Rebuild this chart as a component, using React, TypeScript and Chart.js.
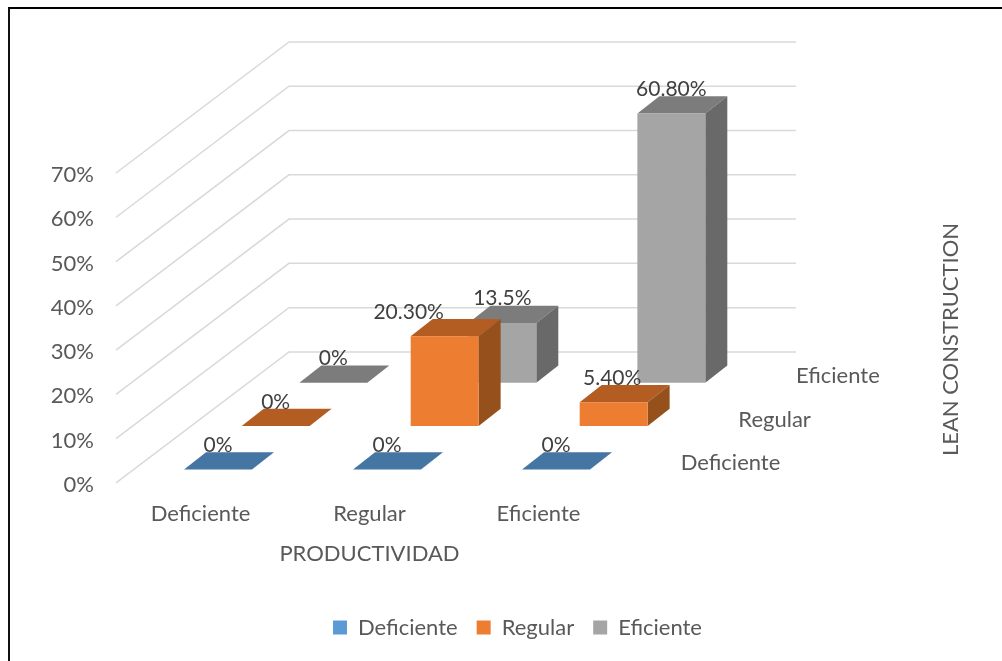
import React, { useEffect, useRef } from "react";
import { Chart, registerables } from "chart.js";

Chart.register(...registerables);

const categories = ["Deficiente", "Regular", "Eficiente"];
const seriesNames = ["Deficiente", "Regular", "Eficiente"];
const deficienteValues = [0, 0, 0];
const regularValues = [0, 20.3, 5.4];
const eficienteValues = [0, 13.5, 60.8];
const deficienteLabels = ["0%", "0%", "0%"];
const regularLabels = ["0%", "20.30%", "5.40%"];
const eficienteLabels = ["0%", "13.5%", "60.80%"];
const yMax = 70;
const yStep = 10;

const FRONT = ["#5b9bd5", "#ed7d31", "#a5a5a5"];
const TOP = ["#4575a3", "#b35d22", "#7c7c7c"];
const SIDE = ["#3a5f83", "#95501c", "#696969"];
const FONT = "Lato, Carlito, sans-serif";
const FONT_SIZE = 22;
const VALUE_FONT_SIZE = 21;
const WALL_DX = 173;
const WALL_DY = 131;
const ROW_DX = WALL_DX / 3;
const ROW_DY = 43.4;
const GAP_DX = 17.5;
const GAP_DY = 13.4;
const BAR_DX = 22;
const BAR_DY = 17.3;

const rowOffset = (row: number) => ({
  x: row * ROW_DX + GAP_DX,
  y: -(row * ROW_DY + GAP_DY),
});

const depthPlugin = {
  id: "depth3d",
  beforeDatasetsDraw(chart: any) {
    const { ctx, chartArea, scales } = chart;
    ctx.save();
    ctx.strokeStyle = "#d9d9d9";
    ctx.lineWidth = 1.5;
    for (const tick of scales.y.ticks) {
      const y = scales.y.getPixelForValue(tick.value);
      ctx.beginPath();
      ctx.moveTo(chartArea.left, y);
      ctx.lineTo(chartArea.left + WALL_DX, y - WALL_DY);
      ctx.lineTo(chartArea.right + WALL_DX, y - WALL_DY);
      ctx.stroke();
    }
    ctx.restore();
  },
  beforeDatasetDraw(chart: any, args: any) {
    const { ctx } = chart;
    const row = args.index;
    const off = rowOffset(row);
    ctx.save();
    ctx.translate(off.x, off.y);
    for (const el of args.meta.data) {
      const l = el.x - el.width / 2;
      const r = el.x + el.width / 2;
      ctx.fillStyle = TOP[row];
      ctx.beginPath();
      ctx.moveTo(l, el.y);
      ctx.lineTo(r, el.y);
      ctx.lineTo(r + BAR_DX, el.y - BAR_DY);
      ctx.lineTo(l + BAR_DX, el.y - BAR_DY);
      ctx.closePath();
      ctx.fill();
      if (el.base - el.y > 0.5) {
        ctx.fillStyle = SIDE[row];
        ctx.beginPath();
        ctx.moveTo(r, el.y);
        ctx.lineTo(r + BAR_DX, el.y - BAR_DY);
        ctx.lineTo(r + BAR_DX, el.base - BAR_DY);
        ctx.lineTo(r, el.base);
        ctx.closePath();
        ctx.fill();
      }
    }
  },
  afterDatasetDraw(chart: any) {
    chart.ctx.restore();
  },
  afterDatasetsDraw(chart: any) {
    const { ctx, chartArea } = chart;
    ctx.save();
    ctx.textBaseline = "middle";

    // Value labels
    ctx.font = `${VALUE_FONT_SIZE}px ${FONT}`;
    ctx.fillStyle = "#404040";
    ctx.textAlign = "center";
    chart.data.datasets.forEach((ds: any, row: number) => {
      const off = rowOffset(row);
      chart.getDatasetMeta(row).data.forEach((el: any, i: number) => {
        const text = ds.valueLabels[i];
        // The source moved the 20.30% label left, clear of the bar behind it
        const nudge = text === "20.30%" ? -36 : text === "5.40%" ? -1.5 : 0;
        ctx.fillText(text, el.x + off.x + nudge, el.y + off.y - BAR_DY - 7);
      });
    });

    // Depth axis labels
    ctx.font = `${FONT_SIZE}px ${FONT}`;
    ctx.fillStyle = "#595959";
    ctx.textAlign = "left";
    seriesNames.forEach((name, row) => {
      const x = chartArea.right + (row + 1) * ROW_DX;
      const y = chartArea.bottom - row * ROW_DY - 20;
      ctx.fillText(name, x, y);
    });

    // Depth axis title
    ctx.translate(951, 339.5);
    ctx.rotate(-Math.PI / 2);
    ctx.textAlign = "center";
    ctx.fillText("LEAN CONSTRUCTION", 0, 0);
    ctx.restore();
  },
};

export default function App() {
  const ref = useRef<HTMLCanvasElement>(null);

  useEffect(() => {
    const chart = new Chart(ref.current as HTMLCanvasElement, {
      type: "bar",
      data: {
        labels: categories,
        datasets: [
          { label: seriesNames[0], data: deficienteValues, backgroundColor: FRONT[0], valueLabels: deficienteLabels },
          { label: seriesNames[1], data: regularValues, backgroundColor: FRONT[1], valueLabels: regularLabels },
          { label: seriesNames[2], data: eficienteValues, backgroundColor: FRONT[2], valueLabels: eficienteLabels },
        ] as any,
      },
      plugins: [depthPlugin],
      options: {
        responsive: false,
        animation: false,
        clip: false,
        layout: { padding: { left: 33, right: 0, top: 173, bottom: 12.5 } },
        datasets: {
          bar: { grouped: false, categoryPercentage: 1, barPercentage: 0.402 },
        },
        scales: {
          x: {
            grid: { display: false },
            border: { display: false },
            ticks: { color: "#595959", font: { family: FONT, size: FONT_SIZE }, padding: 10, maxRotation: 0 },
            title: {
              display: true,
              text: "PRODUCTIVIDAD",
              color: "#595959",
              font: { family: FONT, size: FONT_SIZE },
              padding: { top: 0, bottom: 30.5 },
            },
            afterFit(scale: any) {
              scale.height = 114.6;
            },
          },
          y: {
            min: 0,
            max: yMax,
            grid: { display: false },
            border: { display: false },
            ticks: {
              stepSize: yStep,
              color: "#595959",
              font: { family: FONT, size: FONT_SIZE },
              padding: 14,
              labelOffset: 2,
              callback: (v: any) => `${v}%`,
            },
            afterFit(scale: any) {
              scale.width = 83;
            },
          },
          depthSpace: {
            position: "right",
            min: 0,
            max: yMax,
            grid: { display: false },
            border: { display: false },
            ticks: { display: false },
            afterFit(scale: any) {
              scale.width = 379;
            },
          },
        },
        plugins: {
          legend: {
            position: "bottom",
            labels: {
              boxWidth: 14,
              boxHeight: 14,
              padding: 19,
              color: "#595959",
              font: { family: FONT, size: FONT_SIZE },
            },
          },
          tooltip: { enabled: false },
        },
      } as any,
    });
    return () => chart.destroy();
  }, []);

  return (
    <div style={{ position: "absolute", left: 0, top: 0, width: 1002, height: 661, overflow: "hidden", background: "#fff" }}>
      <div
        style={{
          position: "absolute",
          left: 8,
          top: 7,
          width: 994,
          height: 654,
          boxSizing: "border-box",
          borderTop: "2px solid #000",
          borderLeft: "2px solid #111",
        }}
      />
      <canvas ref={ref} width={1002} height={661} style={{ position: "absolute", left: 0, top: 0, display: "block" }} />
    </div>
  );
}
